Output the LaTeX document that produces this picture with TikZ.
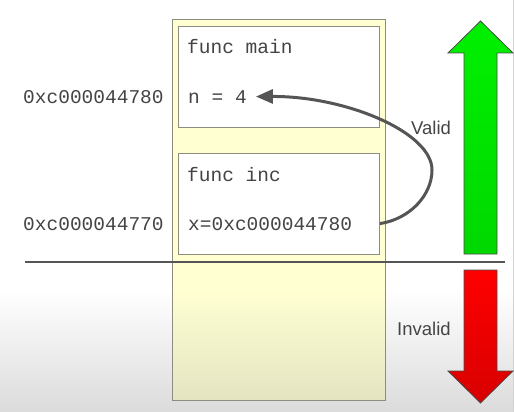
\documentclass[tikz,border=0pt]{standalone}
\usepackage{fontspec}
\setmainfont{Liberation Sans}
\newfontfamily\codefont{Liberation Mono}
\usetikzlibrary{arrows.meta}
\definecolor{txtgray}{HTML}{444444}
\definecolor{framegray}{HTML}{8C8C80}
\definecolor{stacktop}{HTML}{FFFFD2}
\definecolor{stackbot}{HTML}{E4E4C2}
\definecolor{lime}{HTML}{00F000}
\definecolor{limedark}{HTML}{00D800}
\definecolor{redtop}{HTML}{FF0000}
\definecolor{redbot}{HTML}{D80000}
\definecolor{linkgray}{HTML}{555555}
\begin{document}
\begin{tikzpicture}[x=1pt,y=-1pt,
  code/.style={font=\codefont\fontsize{19.5}{22}\selectfont, text=txtgray, inner sep=0pt, anchor=base west},
  side/.style={font=\fontsize{18.5}{22}\selectfont, text=txtgray, inner sep=0pt, anchor=base west},
  stackbox/.style={fill=stacktop, inner sep=0pt, anchor=north west},
  framebox/.style={draw=framegray, line width=1pt, fill=white, inner sep=0pt, anchor=north west},
  link/.style={draw=linkgray, line width=3pt, -{Triangle[length=17pt,width=14pt]}},
  bigarrow/.style={draw=black!70, line width=0.8pt, line join=miter}]
  % page and soft grey floor
  \useasboundingbox (0,0) rectangle (514,412);
  \fill[white] (0,0) rectangle (514,412);
  \shade[top color=white, bottom color=black!14] (0,290) rectangle (514,412);
  \draw[black!18, line width=1pt] (513,0) -- (513,412);

  % stack column: flat yellow, darkening towards its bottom
  \node[stackbox, minimum width=213pt, minimum height=380pt] (stack) at (172,20) {};
  \shade[top color=stacktop, bottom color=stackbot]
    ([yshift=110pt]stack.south west) rectangle (stack.south east);
  \draw[framegray, line width=1pt] (stack.south west) rectangle (stack.north east);

  % frames
  \node[framebox, minimum width=201pt, minimum height=101pt] (main) at (178,26) {};
  \node[framebox, minimum width=201pt, minimum height=101pt] (inc) at (178,153) {};

  % stack boundary
  \coordinate (lineL) at (25,262);
  \coordinate (lineR) at (505,262);
  \draw[linkgray, line width=1.5pt] (lineL) -- (lineR);

  % frame contents
  \node[code] (fmain) at (187,54) {func main};
  \node[code] (nval) at (188,103) {n = 4};
  \node[code] (finc) at (187,181) {func inc};
  \node[code] (xval) at (188,230) {x=0xc000044780};

  % addresses
  \node[code] (addr1) at (23,103) {0xc000044780};
  \node[code] (addr2) at (23,230) {0xc000044770};

  % pointer from x back to n
  \draw[link] (inc.east |- xval) .. controls (410,219) and (432,195) .. (432,170)
     .. controls (432,132) and (345,96) .. ([xshift=9pt]nval.east);

  % direction labels
  \node[side] (valid) at (411,134) {Valid};
  \node[side] (invalid) at (397,335) {Invalid};

  % up arrow (valid)
  \draw[bigarrow, top color=lime, bottom color=limedark]
    (464,254) -- (464,53) -- (448,53) -- (480.5,21) -- (513,53) -- (497,53) -- (497,254) -- cycle;
  % down arrow (invalid)
  \draw[bigarrow, top color=redtop, bottom color=redbot]
    (464,270) -- (464,371) -- (448,371) -- (480.5,403) -- (513,371) -- (497,371) -- (497,270) -- cycle;
\end{tikzpicture}
\end{document}
